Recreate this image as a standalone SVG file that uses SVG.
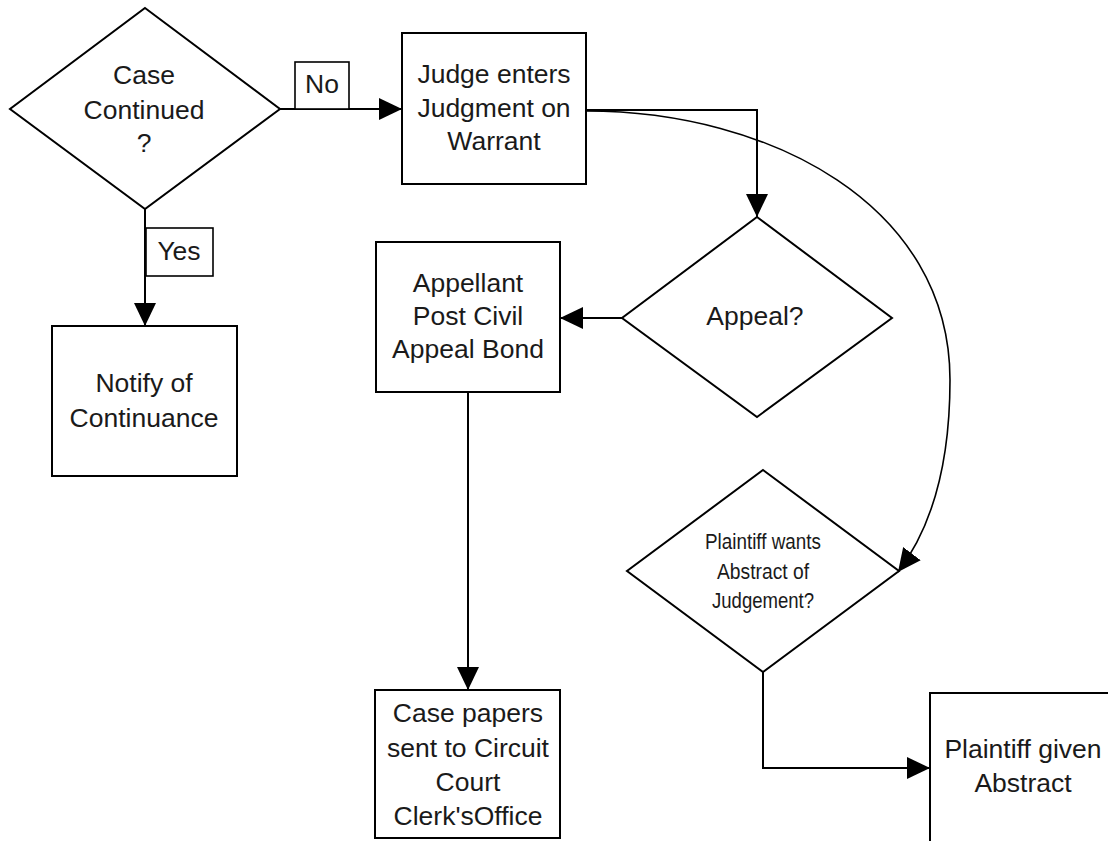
<svg xmlns="http://www.w3.org/2000/svg" width="1108" height="841" viewBox="0 0 1108 841">
<style>
.shape{fill:#fff;stroke:#000;stroke-width:2}
.lbl{fill:#fff;stroke:#000;stroke-width:1.6}
.t{font-family:"Liberation Sans",Arial,sans-serif;font-size:26.5px;fill:#1a1a1a;text-anchor:middle}
.s{font-family:"Liberation Sans",Arial,sans-serif;font-size:22px;fill:#1a1a1a;text-anchor:middle}
.c{fill:none;stroke:#000;stroke-width:2}
.cv{fill:none;stroke:#000;stroke-width:1.6}
</style>
<defs>
<marker id="arr" markerUnits="userSpaceOnUse" markerWidth="23" markerHeight="22" viewBox="0 0 23 22" refX="23" refY="11" orient="auto">
<path d="M0,0 L23,11 L0,22 z" fill="#000"/>
</marker>
</defs>
<rect width="1108" height="841" fill="#fff"/>
<g id="connectors">
<path class="c" d="M280,109 H402" marker-end="url(#arr)"/>
<path class="c" d="M145,209 V326" marker-end="url(#arr)"/>
<path class="c" d="M586,110 H757 V217" marker-end="url(#arr)"/>
<path class="c" d="M622,318 H560" marker-end="url(#arr)"/>
<path class="c" d="M468,392 V690" marker-end="url(#arr)"/>
<path class="cv" d="M586,111 C770,111 950,205 950,380 C950,470 930,530 898,572" marker-end="url(#arr)"/>
<path class="c" d="M763,672 V768 H930" marker-end="url(#arr)"/>
<g id="label-no">
<rect class="lbl" x="295" y="62" width="54" height="47"/>
<text class="t" x="322" y="93">No</text>
</g>
<g id="label-yes">
<rect class="lbl" x="146" y="228" width="67" height="48"/>
<text class="t" x="179" y="260">Yes</text>
</g>
</g>
<g id="case-continued">
<polygon class="shape" points="145,8 280,109 145,209 10,109"/>
<text class="t" x="144" y="84">Case</text>
<text class="t" x="144" y="119">Continued</text>
<text class="t" x="144" y="152">?</text>
</g>
<g id="judge-enters">
<rect class="shape" x="402" y="33" width="184" height="151"/>
<text class="t" x="494" y="83">Judge enters</text>
<text class="t" x="494" y="117">Judgment on</text>
<text class="t" x="494" y="150">Warrant</text>
</g>
<g id="notify">
<rect class="shape" x="52" y="326" width="185" height="150"/>
<text class="t" x="144" y="392">Notify of</text>
<text class="t" x="144" y="427">Continuance</text>
</g>
<g id="appeal">
<polygon class="shape" points="757,217 892,318 757,417 622,318"/>
<text class="t" x="755" y="325">Appeal?</text>
</g>
<g id="appellant">
<rect class="shape" x="376" y="242" width="184" height="150"/>
<text class="t" x="468" y="292">Appellant</text>
<text class="t" x="468" y="325">Post Civil</text>
<text class="t" x="468" y="358">Appeal Bond</text>
</g>
<g id="plaintiff-wants">
<polygon class="shape" points="763,470 899,571 763,672 627,571"/>
<text class="s" x="763" y="549" textLength="116" lengthAdjust="spacingAndGlyphs">Plaintiff wants</text>
<text class="s" x="763" y="579" textLength="92" lengthAdjust="spacingAndGlyphs">Abstract of</text>
<text class="s" x="763" y="608" textLength="102" lengthAdjust="spacingAndGlyphs">Judgement?</text>
</g>
<g id="case-papers">
<rect class="shape" x="375" y="690" width="185" height="148"/>
<text class="t" x="468" y="722">Case papers</text>
<text class="t" x="468" y="757">sent to Circuit</text>
<text class="t" x="468" y="791">Court</text>
<text class="t" x="468" y="825">Clerk'sOffice</text>
</g>
<g id="plaintiff-given">
<rect class="shape" x="930" y="693" width="190" height="170"/>
<text class="t" x="1023" y="758">Plaintiff given</text>
<text class="t" x="1023" y="792">Abstract</text>
</g>
</svg>
